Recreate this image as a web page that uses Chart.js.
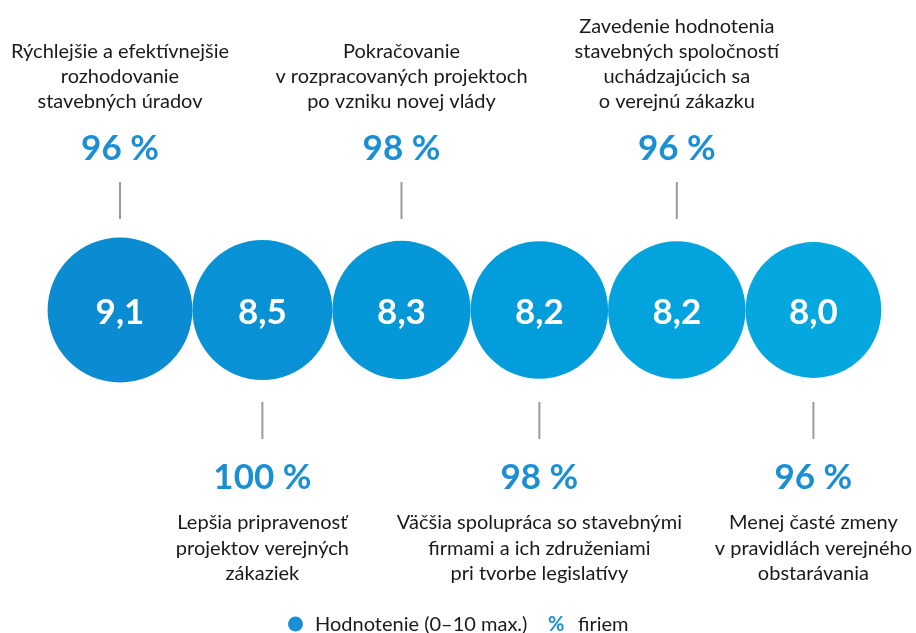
<!DOCTYPE html>
<html>
<head>
<meta charset="utf-8">
<script src="https://cdn.jsdelivr.net/npm/chart.js@4.4.1/dist/chart.umd.min.js"></script>
<style>
  html, body { margin: 0; padding: 0; background: #fff; }
  #wrap { width: 916px; height: 633px; position: relative; }
</style>
</head>
<body>
<div id="wrap"><canvas id="chart"></canvas></div>
<script>
// hodnotenie (0-10) a % firiem
const labels = [
    ['Rýchlejšie a efektívnejšie', 'rozhodovanie', 'stavebných úradov'],
    ['Lepšia pripravenosť', 'projektov verejných', 'zákaziek'],
    ['Pokračovanie', 'v rozpracovaných projektoch', 'po vzniku novej vlády'],
    ['Väčšia spolupráca so stavebnými', 'firmami a ich združeniami', 'pri tvorbe legislatívy'],
    ['Zavedenie hodnotenia', 'stavebných spoločností', 'uchádzajúcich sa', 'o verejnú zákazku'],
    ['Menej časté zmeny', 'v pravidlách verejného', 'obstarávania']
];
const scores = [9.1, 8.5, 8.3, 8.2, 8.2, 8.0];
const percents = [96, 100, 98, 98, 96, 96];
const colors = ['#0a8bd2', '#0892d5', '#0697d8', '#049ddb', '#03a3dd', '#04a8df'];

const FONT = 'Lato, "Noto Sans", sans-serif';
const BLUE = '#1a8fd3';

// plocha kruhu ~ hodnotenie, kruhy sa dotykaju
const radii = scores.map(v => 24.0 * Math.sqrt(v));
const xs = [];
radii.forEach((r, i) => {
    xs.push(i === 0 ? 120 : xs[i - 1] + radii[i - 1] + r);
});
const points = scores.map((v, i) => ({ x: xs[i], y: 0, r: radii[i] }));

const labelsPlugin = {
    id: 'labelsPlugin',
    afterDatasetsDraw(chart) {
        const ctx = chart.ctx;
        const meta = chart.getDatasetMeta(0);
        ctx.save();
        ctx.textAlign = 'center';
        ctx.textBaseline = 'middle';
        meta.data.forEach((el, i) => {
            const x = el.x, y = el.y;
            // hodnota v kruhu
            ctx.fillStyle = '#fff';
            ctx.font = 'bold 35px ' + FONT;
            ctx.fillText(scores[i].toFixed(1).replace('.', ','), x, y + 3);

            const top = i % 2 === 0;
            const lines = labels[i];
            ctx.strokeStyle = '#9a9a9a';
            ctx.lineWidth = 2;
            ctx.beginPath();
            if (top) {
                ctx.moveTo(x, 182); ctx.lineTo(x, 219);
            } else {
                ctx.moveTo(x, 402); ctx.lineTo(x, 439);
            }
            ctx.stroke();

            ctx.fillStyle = BLUE;
            ctx.font = 'bold 35px ' + FONT;
            ctx.fillText(percents[i] + ' %', x, top ? 149 : 478);

            ctx.fillStyle = '#1a1a1a';
            ctx.font = '20px ' + FONT;
            lines.forEach((t, j) => {
                const ly = top ? 102 - (lines.length - 1 - j) * 25.3 : 523 + j * 25.3;
                ctx.fillText(t, x, ly);
            });
        });

        // legenda
        const ly = 625;
        ctx.fillStyle = '#1a8fd6';
        ctx.beginPath();
        ctx.arc(295.5, ly - 1, 7.5, 0, Math.PI * 2);
        ctx.fill();
        ctx.textAlign = 'left';
        ctx.fillStyle = '#1a1a1a';
        ctx.font = '20px ' + FONT;
        ctx.fillText('Hodnotenie (0–10 max.)', 315, ly);
        ctx.fillStyle = BLUE;
        ctx.font = 'bold 20px ' + FONT;
        ctx.fillText('%', 548, ly);
        ctx.fillStyle = '#1a1a1a';
        ctx.font = '20px ' + FONT;
        ctx.fillText('firiem', 578, ly);
        ctx.restore();
    }
};

new Chart(document.getElementById('chart'), {
    type: 'bubble',
    data: {
        datasets: [{
            data: points,
            backgroundColor: colors,
            borderWidth: 0,
            hoverBorderWidth: 0
        }]
    },
    options: {
        responsive: true,
        maintainAspectRatio: false,
        animation: false,
        events: [],
        layout: { autoPadding: false, padding: { left: 0, right: 0, top: 0, bottom: 13 } },
        scales: {
            x: { type: 'linear', min: 0, max: 916, display: false },
            y: { type: 'linear', min: -1, max: 1, display: false }
        },
        plugins: {
            legend: { display: false },
            tooltip: { enabled: false }
        }
    },
    plugins: [labelsPlugin]
});
</script>
</body>
</html>
